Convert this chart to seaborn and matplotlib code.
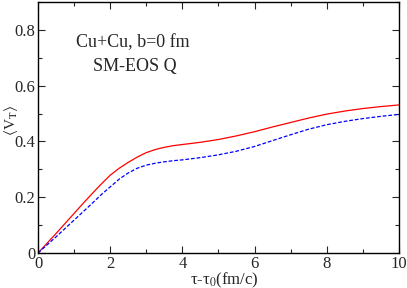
import numpy as np
import pandas as pd
import matplotlib
matplotlib.use('Agg')
import matplotlib.pyplot as plt
import seaborn as sns
from matplotlib.ticker import MultipleLocator

sns.set_style('ticks')
plt.rcParams['font.family'] = ['Liberation Serif', 'DejaVu Serif']
plt.rcParams['mathtext.fontset'] = 'stix'

# values
tau = [0, 0.5, 1, 1.25, 1.5, 1.75, 2, 2.25, 2.5, 2.75, 3, 3.25, 3.5, 3.75, 4, 4.5, 5, 5.5,
       6, 6.5, 7, 7.5, 8, 8.5, 9, 9.5, 10]
v_red = [0, 0.07, 0.142, 0.178, 0.213, 0.247, 0.279, 0.304, 0.325, 0.344, 0.36, 0.371,
         0.379, 0.385, 0.389, 0.397, 0.407, 0.42, 0.435, 0.452, 0.468, 0.484, 0.498,
         0.509, 0.518, 0.525, 0.531]
v_blue = [0, 0.058, 0.118, 0.148, 0.178, 0.209, 0.237, 0.265, 0.287, 0.304, 0.315,
          0.322, 0.327, 0.331, 0.334, 0.342, 0.352, 0.365, 0.382, 0.403, 0.424, 0.444,
          0.46, 0.472, 0.482, 0.49, 0.497]

df = pd.DataFrame({'tau': tau + tau, 'v': v_red + v_blue,
                   'curve': ['a'] * len(tau) + ['b'] * len(tau)})

fig = plt.figure(figsize=(4.07, 2.88), dpi=100)
ax = fig.add_axes([0.0934, 0.1215, 0.8866, 0.8715])

sns.lineplot(data=df[df.curve == 'a'], x='tau', y='v', color='#ff0000', lw=0.9, ax=ax)
sns.lineplot(data=df[df.curve == 'b'], x='tau', y='v', color='#0000ff', lw=0.9, ax=ax)
ax.lines[1].set_dashes([3, 1.5])

ax.set_xlim(0, 10)
ax.set_ylim(0, 0.9)
ax.xaxis.set_minor_locator(MultipleLocator(1))
ax.yaxis.set_minor_locator(MultipleLocator(0.1))
ax.set_xticks([0, 2, 4, 6, 8, 10])
ax.set_xticklabels(['0', '2', '4', '6', '8', '10'])
ax.set_yticks([0, 0.2, 0.4, 0.6, 0.8])
ax.set_yticklabels(['0', '0.2', '0.4', '0.6', '0.8'])
ax.tick_params(which='both', direction='in', top=True, right=True, labelsize=12, width=0.8, pad=2)
ax.tick_params(which='major', length=5)
ax.tick_params(which='minor', length=3)
for s in ax.spines.values():
    s.set_linewidth(1)
    s.set_color('black')

ax.set_xlabel(r'τ-τ$_0$(fm/c)', fontsize=12)
ax.xaxis.set_label_coords(0.515, -0.07)
ax.set_ylabel(r'$\langle$V$_\mathrm{T}\rangle$', fontsize=11)
ax.yaxis.set_label_coords(-0.05, 0.53)

ax.text(0.263, 0.837, 'Cu+Cu, b=0 fm', transform=ax.transAxes, ha='center', va='center', fontsize=13)
ax.text(0.269, 0.745, 'SM-EOS Q', transform=ax.transAxes, ha='center', va='center', fontsize=13)

fig.savefig('out.png', dpi=100)
